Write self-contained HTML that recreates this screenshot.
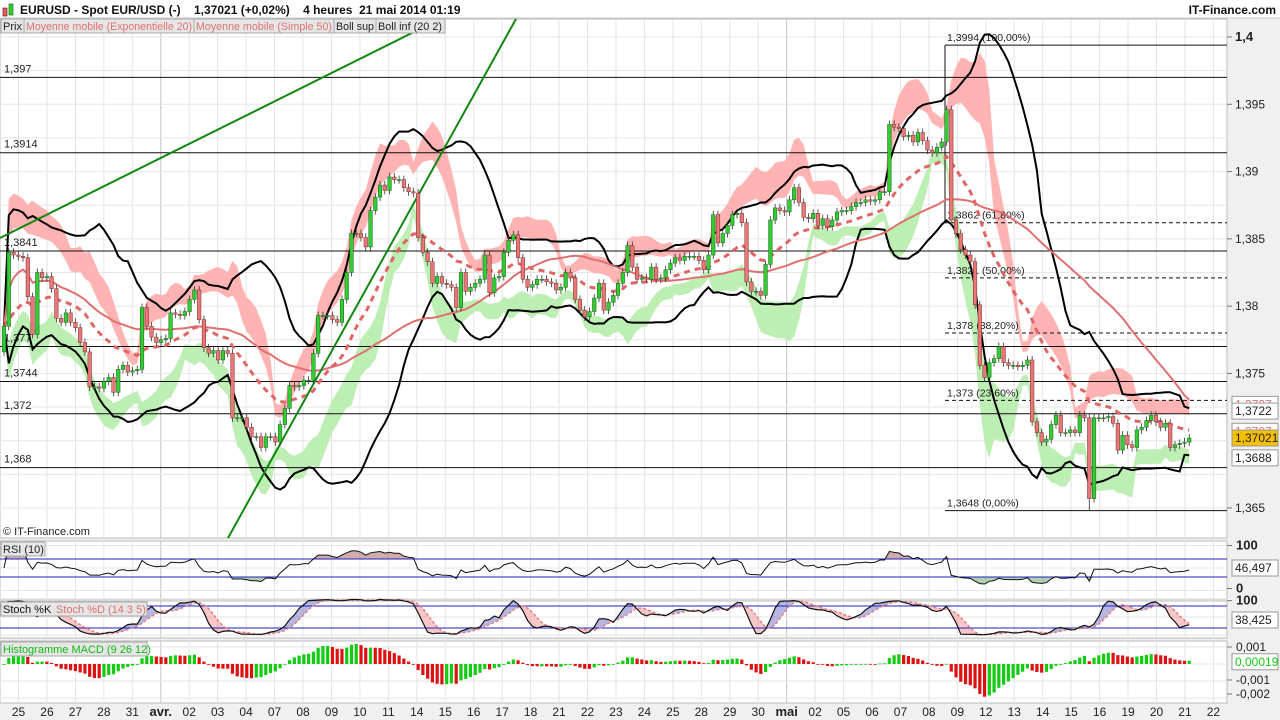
<!DOCTYPE html>
<html><head><meta charset="utf-8"><style>
html,body{margin:0;padding:0;background:#fff;}
svg{display:block;font-family:"Liberation Sans",sans-serif;}
</style></head><body>
<svg id="chart" width="1280" height="720" viewBox="0 0 1280 720" xmlns="http://www.w3.org/2000/svg">
<rect x="0" y="0" width="1280" height="720" fill="#f0f0f0"/>
<g>
<rect x="0" y="0" width="1280" height="18" fill="#ffffff"/>
<line x1="0" y1="18" x2="1280" y2="18" stroke="#c8c8c8"/>
<rect x="3" y="8" width="4" height="8" fill="#e06060" stroke="#600" stroke-width="0.6"/>
<rect x="9" y="4" width="4" height="11" fill="#33cc33" stroke="#060" stroke-width="0.6"/>
<text x="20" y="14" font-size="12" font-weight="bold" fill="#111" style="white-space:pre" xml:space="preserve">EURUSD - Spot EUR/USD (-)    1,37021 (+0,02%)    4 heures  21 mai 2014 01:19</text>
<text x="1276" y="14" font-size="12" font-weight="bold" fill="#111" text-anchor="end">IT-Finance.com</text>
</g>
<rect x="0" y="19" width="1227" height="519" fill="#ffffff" stroke="#bbbbbb"/>
<rect x="0" y="541" width="1227" height="58" fill="#ffffff" stroke="#bbbbbb"/>
<rect x="0" y="601" width="1227" height="37" fill="#ffffff" stroke="#bbbbbb"/>
<rect x="0" y="641" width="1227" height="62" fill="#ffffff" stroke="#bbbbbb"/>
<g id="grid"></g>
<g id="main"></g>
<g id="rsi"></g>
<g id="stoch"></g>
<g id="macd"></g>
<g id="axes"></g>
<g>
<rect x="1" y="19" width="23" height="14" fill="#e6e6e6" stroke="#aaa"/>
<text x="3" y="30" font-size="11" fill="#222">Prix</text>
<rect x="24" y="19" width="170" height="14" fill="#e6e6e6" stroke="#aaa"/>
<text x="26" y="30" font-size="11" fill="#e07070" textLength="166" lengthAdjust="spacingAndGlyphs">Moyenne mobile (Exponentielle 20)</text>
<rect x="194" y="19" width="140" height="14" fill="#e6e6e6" stroke="#aaa"/>
<text x="196" y="30" font-size="11" fill="#e07070" textLength="136" lengthAdjust="spacingAndGlyphs">Moyenne mobile (Simple 50)</text>
<rect x="334" y="19" width="42" height="14" fill="#e6e6e6" stroke="#aaa"/>
<text x="336" y="30" font-size="11" fill="#222" textLength="38" lengthAdjust="spacingAndGlyphs">Boll sup</text>
<rect x="376" y="19" width="69" height="14" fill="#e6e6e6" stroke="#aaa"/>
<text x="378" y="30" font-size="11" fill="#222" textLength="64" lengthAdjust="spacingAndGlyphs">Boll inf (20 2)</text>
</g>
</svg>
<script>
const closes=[1.3785,1.3840,1.3838,1.3837,1.3836,1.3807,1.3779,1.3825,1.3821,1.3822,
1.3813,1.3791,1.3788,1.3795,1.3788,1.3784,1.3773,1.3766,1.3740,1.3740,
1.3739,1.3744,1.3747,1.3736,1.3753,1.3756,1.3751,1.3752,1.3753,1.3799,
1.3785,1.3777,1.3773,1.3775,1.3776,1.3795,1.3794,1.3793,1.3796,1.3805,
1.3812,1.3790,1.3769,1.3765,1.3767,1.3760,1.3767,1.3765,1.3717,1.3717,
1.3717,1.3710,1.3703,1.3703,1.3695,1.3703,1.3703,1.3699,1.3712,1.3724,
1.3741,1.3740,1.3741,1.3745,1.3745,1.3765,1.3793,1.3793,1.3793,1.3790,
1.3788,1.3805,1.3825,1.3854,1.3854,1.3851,1.3844,1.3871,1.3881,1.3890,
1.3886,1.3896,1.3894,1.3894,1.3888,1.3885,1.3884,1.3851,1.3840,1.3833,
1.3817,1.3822,1.3817,1.3816,1.3814,1.3799,1.3825,1.3811,1.3814,1.3817,
1.3820,1.3838,1.3810,1.3821,1.3822,1.3840,1.3849,1.3853,1.3836,1.3820,
1.3814,1.3816,1.3820,1.3820,1.3818,1.3817,1.3812,1.3814,1.3825,1.3821,
1.3805,1.3797,1.3792,1.3796,1.3806,1.3817,1.3797,1.3803,1.3808,1.3817,
1.3825,1.3845,1.3829,1.3820,1.3821,1.3820,1.3829,1.3820,1.3821,1.3827,
1.3832,1.3836,1.3834,1.3837,1.3837,1.3837,1.3834,1.3827,1.3838,1.3868,
1.3847,1.3854,1.3860,1.3868,1.3869,1.3862,1.3818,1.3811,1.3811,1.3808,
1.3831,1.3864,1.3873,1.3871,1.3870,1.3879,1.3888,1.3877,1.3866,1.3865,
1.3869,1.3860,1.3865,1.3859,1.3864,1.3870,1.3871,1.3871,1.3874,1.3877,
1.3877,1.3879,1.3878,1.3879,1.3885,1.3885,1.3935,1.3933,1.3932,1.3926,
1.3927,1.3922,1.3929,1.3923,1.3916,1.3914,1.3918,1.3922,1.3946,1.3864,
1.3854,1.3842,1.3838,1.3833,1.3801,1.3756,1.3747,1.3758,1.3761,1.3770,
1.3758,1.3756,1.3756,1.3755,1.3756,1.3760,1.3714,1.3706,1.3699,1.3701,
1.3712,1.3719,1.3706,1.3706,1.3708,1.3706,1.3719,1.3717,1.3657,1.3717,
1.3717,1.3717,1.3718,1.3713,1.3693,1.3704,1.3697,1.3695,1.3708,1.3710,
1.3715,1.3719,1.3714,1.3710,1.3713,1.3695,1.3697,1.3698,1.3699,1.3702];
const firstOpen=1.3766;
const wickSize=0.0003;
const lowOverride={228:1.3648};
const dayLabels=['25','26','27','28','31','avr.','02','03','04','07','08','09','10','11','14','15','16','17','18','21','22','23','24','25','28','29','30','mai','02','05','06','07','08','09','12','13','14','15','16','19','20','21','22'];
const priceTicks=[1.4,1.395,1.39,1.385,1.38,1.375,1.365];
const priceTickLabels=['1,4','1,395','1,39','1,385','1,38','1,375','1,365'];
const hLines=[1.397,1.3914,1.3841,1.377,1.3744,1.372,1.368];
const hLineLabels=['1,397','1,3914','1,3841','1,377','1,3744','1,372','1,368'];
const fibLevels=[1.3994,1.3862,1.3821,1.378,1.373,1.3648];
const fibLabels=['1,3994 (100,00%)','1,3862 (61,80%)','1,3821 (50,00%)','1,378 (38,20%)','1,373 (23,60%)','1,3648 (0,00%)'];

const NS='http://www.w3.org/2000/svg';
const X=i=>4+i*4.76;
const Y=p=>37+(1.4-p)*13457;
const dayX=k=>18.5+k*28.45;
const RY=v=>590.5-v*0.45;
const SY=v=>635.3-v*0.3667;
const MY=v=>664-v*17000;
function mk(tag,attrs,parent){const e=document.createElementNS(NS,tag);for(const k in attrs)e.setAttribute(k,attrs[k]);parent.appendChild(e);return e;}
const G=id=>document.getElementById(id);
const N=closes.length;
const opens=closes.map((c,i)=>i?closes[i-1]:firstOpen);

const grid=G('grid');
dayLabels.forEach((d,k)=>{
  const x=dayX(k);
  [[19,538],[541,599],[601,638],[641,703]].forEach(r=>{
    const l=mk('line',{x1:x,y1:r[0],x2:x,y2:r[1],stroke:(d==='avr.'||d==='mai')?'#c4c4c4':'#e4e4e4'},grid);
    
    
  });
});
for(let p=1.365;p<=1.4001;p+=0.0025){
  const l=mk('line',{x1:0,y1:Y(p),x2:1227,y2:Y(p),stroke:'#e6e6e6'},grid);
  
  
}
[RY,SY].forEach(f=>[100,50,0].forEach(v=>{mk('line',{x1:0,y1:f(v),x2:1227,y2:f(v),stroke:'#e6e6e6'},grid);}));
[0.001,0,-0.001,-0.002].forEach(v=>{mk('line',{x1:0,y1:MY(v),x2:1227,y2:MY(v),stroke:'#e6e6e6'},grid);});

function sma(a,n){return a.map((_,i)=>{const s=a.slice(Math.max(0,i-n+1),i+1);return s.reduce((x,y)=>x+y,0)/s.length;});}
function ema(a,n){const k=2/(n+1);let e=a[0];return a.map(v=>(e=v*k+e*(1-k)));}
function sd(a,n){const m=sma(a,n);return a.map((_,i)=>{const s=a.slice(Math.max(0,i-n+1),i+1);return Math.sqrt(s.reduce((x,y)=>x+(y-m[i])**2,0)/s.length);});}
const ema20=ema(closes,20), sma50=sma(closes,50);
const m20=sma(closes,20), s20=sd(closes,20);
const bbUp=m20.map((m,i)=>m+2*s20[i]), bbLo=m20.map((m,i)=>m-2*s20[i]);
const m10=sma(closes,10), s10=sd(closes,10);
const cUpA=m10.map((m,i)=>m+2.3*s10[i]+0.0004), cUpB=m10.map((m,i)=>m+1.4*s10[i]+0.0001);
const cLoA=m10.map((m,i)=>m-2.3*s10[i]-0.0004), cLoB=m10.map((m,i)=>m-1.4*s10[i]-0.0001);

const main=G('main');
function band(a,b,f,fy,name,par){
  let d='M'+a.map((v,i)=>X(i).toFixed(1)+','+fy(v).toFixed(1)).join('L');
  d+='L'+b.map((v,i)=>X(i).toFixed(1)+','+fy(v).toFixed(1)).reverse().join('L')+'Z';
  const p=mk('path',{d:d,fill:f,stroke:'none'},par);
  
  
}
function line(a,fy,attrs,name,par){
  const p=mk('path',Object.assign({d:'M'+a.map((v,i)=>X(i).toFixed(1)+','+fy(v).toFixed(1)).join('L'),fill:'none'},attrs),par);
  
  
}
band(cUpA,cUpB,'#ffb3b3',Y,'upper-cloud',main);
band(cLoA,cLoB,'#bdeeb4',Y,'lower-cloud',main);

hLines.forEach((p,k)=>{
  const l=mk('line',{x1:0,y1:Y(p),x2:1227,y2:Y(p),stroke:'#111','stroke-width':1},main);
  
  
  const t=mk('text',{x:4,y:Y(p)-5,'font-size':11,fill:'#222'},main);t.textContent=hLineLabels[k];
  
  
});
const fibX=945;
fibLevels.forEach((p,k)=>{
  const solid=(k===0||k===fibLevels.length-1);
  const l=mk('line',{x1:fibX,y1:Y(p),x2:1227,y2:Y(p),stroke:'#111','stroke-dasharray':solid?'none':'4,3'},main);
  
  
  const t=mk('text',{x:fibX+2,y:Y(p)-4,'font-size':10.5,fill:'#222'},main);t.textContent=fibLabels[k];
  
  
});
mk('line',{x1:fibX,y1:Y(fibLevels[0]),x2:fibX,y2:Y(fibLevels[1]),stroke:'#111'},main);

line(bbUp,Y,{stroke:'#000','stroke-width':2},'boll-sup-line',main);
line(bbLo,Y,{stroke:'#000','stroke-width':2},'boll-inf-line',main);
line(sma50,Y,{stroke:'#e07070','stroke-width':2},'sma50-line',main);
line(ema20,Y,{stroke:'#e06666','stroke-width':3,'stroke-dasharray':'6,5'},'ema20-line',main);

const t1=mk('line',{x1:0,y1:238,x2:440,y2:19,stroke:'#118811','stroke-width':2},main);


const t2=mk('line',{x1:228,y1:538,x2:516,y2:19,stroke:'#118811','stroke-width':2},main);



closes.forEach((c,i)=>{
  const o=opens[i],up=c>=o,x=X(i);
  const hi=Math.max(o,c)+wickSize, lo=(lowOverride[i]!==undefined)?lowOverride[i]:Math.min(o,c)-wickSize;
  const g=mk('g',{},main);
  
  
  mk('line',{x1:x,y1:Y(hi),x2:x,y2:Y(lo),stroke:'#333','stroke-width':0.8},g);
  const top=Y(Math.max(o,c)),h=Math.max(1,Math.abs(Y(o)-Y(c)));
  mk('rect',{x:x-1.8,y:top,width:3.6,height:h,fill:up?'#33cc33':'#e87878',stroke:up?'#1a5a1a':'#7a2a2a','stroke-width':0.5},g);
});
const cp=mk('text',{x:3,y:535,'font-size':11,fill:'#222'},main);cp.textContent='© IT-Finance.com';



const rsi=[];{let ag=0,al=0;closes.forEach((c,i)=>{if(i===0){rsi.push(50);return;}const d=c-closes[i-1];const g=Math.max(d,0),l=Math.max(-d,0);if(i<=10){ag=(ag*(i-1)+g)/i;al=(al*(i-1)+l)/i;}else{ag=(ag*9+g)/10;al=(al*9+l)/10;}rsi.push(al===0?100:100-100/(1+ag/al));});}
const rg=G('rsi');
band(rsi.map(v=>Math.max(v,70)),rsi.map(()=>70),'rgba(150,70,70,0.45)',RY,'rsi-overbought-fill',rg);
band(rsi.map(v=>Math.min(v,30)),rsi.map(()=>30),'rgba(80,150,80,0.45)',RY,'rsi-oversold-fill',rg);
[70,30].forEach(v=>mk('line',{x1:0,y1:RY(v),x2:1227,y2:RY(v),stroke:'#2020c0'},rg));
line(rsi,RY,{stroke:'#111','stroke-width':1},'rsi-line',rg);

const hi=closes.map((c,i)=>Math.max(c,opens[i])+wickSize), lw=closes.map((c,i)=>Math.min(c,opens[i])-wickSize);
const raw=closes.map((c,i)=>{const s=Math.max(0,i-13);const H=Math.max(...hi.slice(s,i+1)),L=Math.min(...lw.slice(s,i+1));return H===L?50:100*(c-L)/(H-L);});
const kS=sma(raw,3), dS=sma(kS,5);
const sg=G('stoch');
for(let i=1;i<N;i++){
  mk('path',{d:`M${X(i-1)},${SY(kS[i-1])}L${X(i)},${SY(kS[i])}L${X(i)},${SY(dS[i])}L${X(i-1)},${SY(dS[i-1])}Z`,fill:kS[i]>=dS[i]?'rgba(110,110,200,0.5)':'rgba(240,130,130,0.45)'},sg);
}
[80,20].forEach(v=>mk('line',{x1:0,y1:SY(v),x2:1227,y2:SY(v),stroke:'#2020c0'},sg));
line(dS,SY,{stroke:'#e08080','stroke-width':1.5,'stroke-dasharray':'3,2'},'stoch-d-line',sg);
line(kS,SY,{stroke:'#111','stroke-width':1.2},'stoch-k-line',sg);

const e12=ema(closes,12),e26=ema(closes,26);const macdL=e12.map((v,i)=>v-e26[i]);const sig=ema(macdL,9);const hist=macdL.map((v,i)=>v-sig[i]);
const mg=G('macd');
hist.forEach((v,i)=>{
  const inc=i===0||v>=hist[i-1];
  const r=mk('rect',{x:X(i)-1.6,y:Math.min(MY(v),MY(0)),width:3.2,height:Math.max(0.8,Math.abs(MY(v)-MY(0))),fill:inc?'#11cc11':'#dd1111'},mg);
  
  
});

function box(x,y,w,parts,par,name){
  const g=mk('g',{},par);
  
  
  mk('rect',{x:x,y:y,width:w,height:14,fill:'#e6e6e6',stroke:'#aaa'},g);
  let cx=x+2;parts.forEach(([t,c,wd])=>{const e=mk('text',{x:cx,y:y+11,'font-size':11,fill:c},g);e.textContent=t;cx+=wd;});
}
box(1,542,44,[['RSI (10)','#222',40]],rg,'rsi-label');
box(1,602,146,[['Stoch %K','#111',53],['Stoch %D (14 3 5)','#e07070',90]],sg,'stoch-label');
box(1,642,146,[['Histogramme MACD (9 26 12)','#11bb11',140]],mg,'macd-label');

const ax=G('axes');
priceTicks.forEach((p,k)=>{
  mk('line',{x1:1227,y1:Y(p),x2:1232,y2:Y(p),stroke:'#777'},ax);
  const t=mk('text',{x:1235,y:Y(p)+4,'font-size':k===0?13:12,'font-weight':k===0?'bold':'normal',fill:'#222'},ax);t.textContent=priceTickLabels[k];
  
  
});
function vbox(y,txt,fill,col,name){
  const g=mk('g',{},ax);
  
  
  mk('rect',{x:1232,y:y-8,width:46,height:16,fill:fill,stroke:'#999'},g);
  const t=mk('text',{x:1235,y:y+4,'font-size':12,fill:col},g);t.textContent=txt;
}
vbox(Y(1.3727),'1,3727','#fff','#e07070','sma50-value');
vbox(Y(1.3722),'1,3722','#fff','#222','boll-sup-value');
vbox(Y(1.3707),'1,3707','#fff','#e07070','ema20-value');
vbox(Y(closes[N-1]),'1,37021','#f5c000','#222','last-price-value');
vbox(Y(1.3688)+1,'1,3688','#fff','#222','boll-inf-value');
[[RY(100),'100',true],[RY(0)-2,'0',true],[SY(100)+2,'100',true],[MY(0.001),'0,001',false],[MY(-0.001)-1,'-0,001',false],[MY(-0.002)-4,'-0,002',false]].forEach(([y,t,b])=>{
  mk('line',{x1:1227,y1:y,x2:1232,y2:y,stroke:'#777'},ax);
  const e=mk('text',{x:1236,y:y+4,'font-size':b?13:12,'font-weight':b?'bold':'normal',fill:'#222'},ax);e.textContent=t;
  
  
});
vbox(568,'46,497','#fff','#222','rsi-value');
vbox(620,'38,425','#fff','#222','stoch-value');
vbox(MY(0.00019)+1,'0,00019','#fff','#11cc11','macd-value');
dayLabels.forEach((d,k)=>{
  const bold=(d==='avr.'||d==='mai');
  const t=mk('text',{x:dayX(k),y:716,'font-size':bold?13:12,'font-weight':bold?'bold':'normal','text-anchor':'middle',fill:'#222'},ax);t.textContent=d;
  
  
});
</script>
</body></html>
